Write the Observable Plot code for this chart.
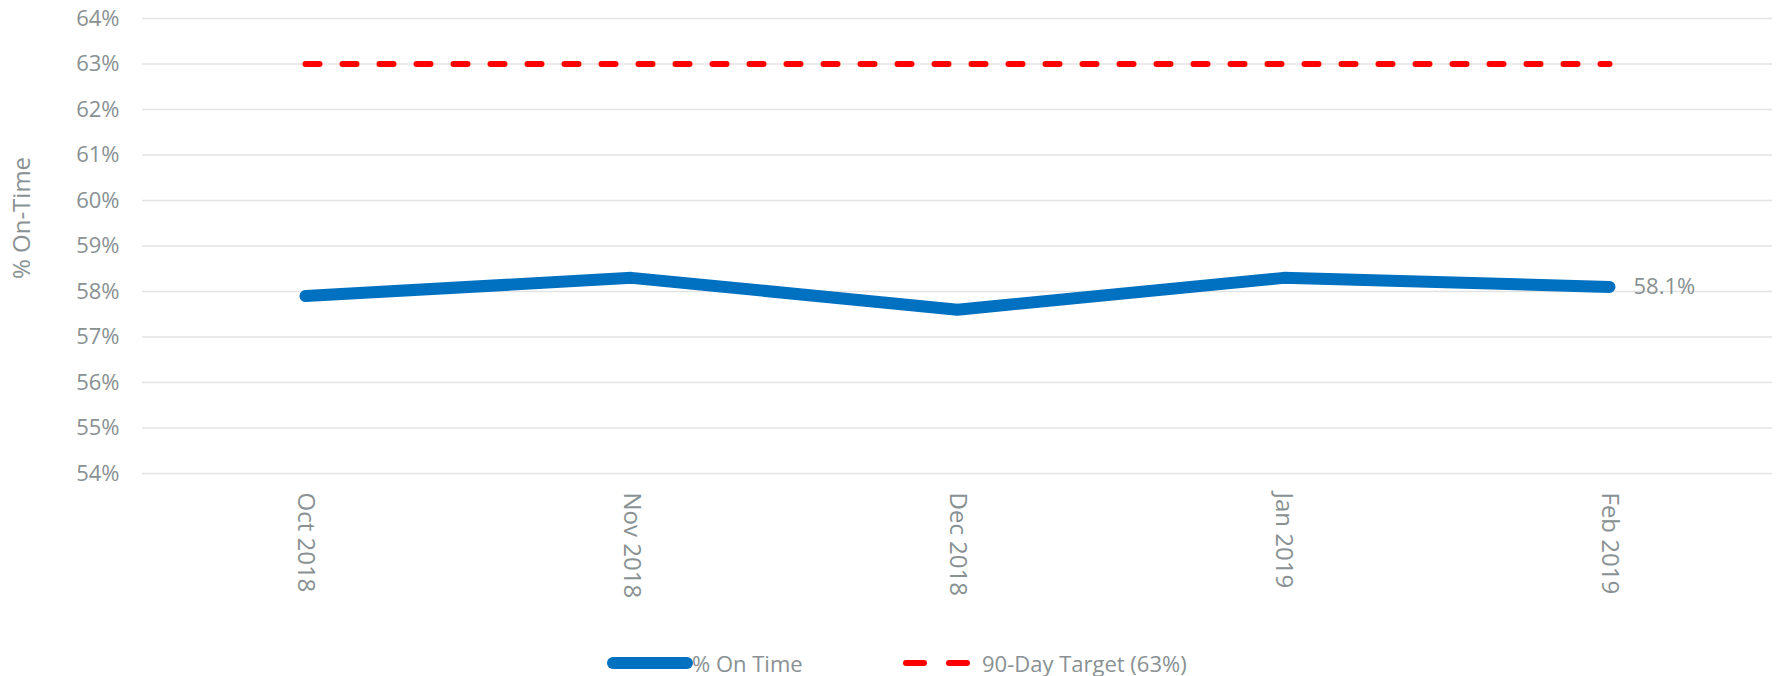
<!DOCTYPE html>
<html>
<head>
<meta charset="utf-8">
<script src="https://cdn.jsdelivr.net/npm/d3@7"></script>
<script src="https://cdn.jsdelivr.net/npm/@observablehq/plot@0.6"></script>
<style>
  body { margin: 0; background: #fff; font-family: "Open Sans", sans-serif; }
  #wrap { width: 1779px; }
  #legend { position: relative; width: 1779px; height: 36px; margin-top: 10px; font-size: 22px; color: #899193; }
  .item { position: absolute; top: 0; height: 26px; line-height: 26px; white-space: nowrap; }
  .item svg { position: absolute; top: 0; }
</style>
</head>
<body>
<div id="wrap"></div>
<div id="legend">
  <div class="item" style="left:607px;">
    <svg width="86" height="26"><line x1="6" y1="13" x2="80" y2="13" stroke="#0070c0" stroke-width="12" stroke-linecap="round"/></svg>
  </div>
  <div class="item" style="left:692px;">% On Time</div>
  <div class="item" style="left:898px;">
    <svg width="80" height="26"><line x1="8" y1="13" x2="72" y2="13" stroke="#ff0000" stroke-width="6" stroke-linecap="round" stroke-dasharray="18,25"/></svg>
  </div>
  <div class="item" style="left:982px;">90-Day Target (63%)</div>
</div>
<script>
const months = ["Oct 2018", "Nov 2018", "Dec 2018", "Jan 2019", "Feb 2019"];
const onTime = [57.9, 58.3, 57.6, 58.3, 58.1];
const target = [63, 63, 63, 63, 63];
const yTicks = [54, 55, 56, 57, 58, 59, 60, 61, 62, 63, 64];

const rows = months.map((m, i) => ({month: m, onTime: onTime[i], target: target[i]}));
const last = rows[rows.length - 1];
const gray = "#899193";

const chart = Plot.plot({
  width: 1779,
  height: 640,
  marginTop: 18,
  marginBottom: 167,
  marginLeft: 142,
  marginRight: 7,
  style: {fontFamily: "Open Sans, sans-serif", color: gray, background: "#fff"},
  x: {type: "point", domain: months, padding: 0.5, label: null},
  y: {domain: [54, 64], label: null},
  marks: [
    Plot.gridY(yTicks, {stroke: "#e3e3e3", strokeOpacity: 1, strokeWidth: 1.5}),
    Plot.axisY(yTicks, {tickSize: 0, tickPadding: 23, fontSize: 22, tickFormat: d => d + "%", fill: gray, label: null}),
    Plot.axisX({tickSize: 0, tickPadding: 19, tickRotate: 90, fontSize: 24, fill: gray, label: null}),
    Plot.text(["% On-Time"], {frameAnchor: "left", textAnchor: "middle", dx: -120, dy: -28, rotate: -90, fontSize: 24, fill: gray}),
    Plot.lineY(rows, {x: "month", y: "target", stroke: "#ff0000", strokeWidth: 6, strokeLinecap: "round", strokeDasharray: "14,23"}),
    Plot.lineY(rows, {x: "month", y: "onTime", stroke: "#0070c0", strokeWidth: 12, strokeLinecap: "round", strokeLinejoin: "miter"}),
    Plot.text([last], {x: "month", y: "onTime", text: d => d.onTime.toFixed(1) + "%", textAnchor: "start", dx: 24, fontSize: 22, fill: gray})
  ]
});
document.getElementById("wrap").appendChild(chart);
</script>
</body>
</html>
